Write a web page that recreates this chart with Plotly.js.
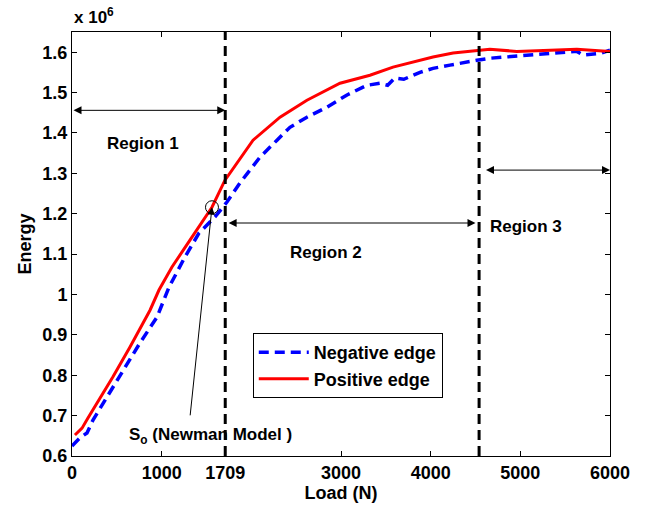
<!DOCTYPE html>
<html><head><meta charset="utf-8">
<script src="https://cdn.plot.ly/plotly-3.0.1.min.js"></script>
<style>body{margin:0;background:#fff}#c{width:653px;height:510px}</style>
</head><body><div id="c"></div>
<script>
// Energy values in units of 1e6
const posLoad = [33, 112, 178, 279, 457, 647, 870, 970, 1115, 1338, 1561, 1706, 1840, 2019, 2320, 2620, 2989, 3323, 3580, 3881, 4026, 4250, 4530, 4660, 4960, 5330, 5630, 6000];
const posEnergy = [0.652, 0.669, 0.694, 0.731, 0.796, 0.870, 0.961, 1.011, 1.068, 1.142, 1.216, 1.283, 1.325, 1.382, 1.439, 1.481, 1.523, 1.543, 1.563, 1.580, 1.588, 1.598, 1.605, 1.607, 1.602, 1.605, 1.607, 1.602];
const negLoad = [0, 89, 167, 234, 390, 569, 758, 948, 1082, 1260, 1416, 1595, 1728, 1873, 2096, 2286, 2431, 2620, 2844, 3067, 3290, 3435, 3520, 3600, 3700, 3881, 4026, 4216, 4327, 4516, 4660, 4850, 5140, 5440, 5630, 5700, 5890, 6000];
const negEnergy = [0.625, 0.645, 0.657, 0.689, 0.746, 0.813, 0.880, 0.944, 1.018, 1.093, 1.152, 1.192, 1.229, 1.276, 1.340, 1.382, 1.414, 1.439, 1.464, 1.494, 1.518, 1.523, 1.518, 1.536, 1.533, 1.550, 1.560, 1.568, 1.573, 1.580, 1.585, 1.588, 1.593, 1.598, 1.602, 1.593, 1.597, 1.605];
const xTicks = [0, 1000, 1709, 3000, 4000, 5000, 6000];
const xTickText = ['0', '1000', '1709', '3000', '4000', '5000', '6000'];
const yTicks = [0.6, 0.7, 0.8, 0.9, 1.0, 1.1, 1.2, 1.3, 1.4, 1.5, 1.6];
const yTickText = ['0.6', '0.7', '0.8', '0.9', '1', '1.1', '1.2', '1.3', '1.4', '1.5', '1.6'];
const boundaries = [1709, 4540];
const newmanPoint = {load: 1561, energy: 1.216};
const newmanLabel = {load: 1316, energy: 0.697};
const regionArrows = [
  {from: 0, to: 1709, y: 1.456},
  {from: 1730, to: 4500, y: 1.177},
  {from: 4600, to: 6000, y: 1.308}
];
const regionLabels = [
  {text: 'Region 1', x: 790, y: 1.375},
  {text: 'Region 2', x: 2830, y: 1.103},
  {text: 'Region 3', x: 5060, y: 1.168}
];

const F = 'Liberation Sans, Arial, sans-serif';
const traces = [
  {x: negLoad, y: negEnergy, mode: 'lines', name: 'Negative edge',
   line: {color: '#0000ff', width: 3.5, dash: '10px,6px'}},
  {x: posLoad, y: posEnergy, mode: 'lines', name: 'Positive edge',
   line: {color: '#ff0000', width: 3}},
  {x: [newmanPoint.load], y: [newmanPoint.energy], mode: 'markers', showlegend: false,
   marker: {symbol: 'circle-open', size: 13, color: '#000', line: {width: 1, color: '#000'}}}
];
const shapes = boundaries.map(b => ({type: 'line', xref: 'x', yref: 'paper', x0: b, x1: b, y0: 0, y1: 1,
  line: {color: '#000', width: 3, dash: '10px,6px'}}));
const annotations = [];
regionArrows.forEach(a => annotations.push({x: a.to, y: a.y, ax: a.from, ay: a.y, axref: 'x', ayref: 'y',
  xref: 'x', yref: 'y', text: '', showarrow: true, arrowhead: 2, startarrowhead: 2, arrowside: 'end+start',
  arrowsize: 1.6, startarrowsize: 1.6, arrowwidth: 1, arrowcolor: '#000'}));
regionLabels.forEach(r => annotations.push({x: r.x, y: r.y, xref: 'x', yref: 'y', text: r.text, showarrow: false,
  font: {family: F, size: 17, color: '#000', weight: 'bold'}}));
annotations.push({x: newmanPoint.load, y: newmanPoint.energy, ax: newmanLabel.load, ay: newmanLabel.energy,
  axref: 'x', ayref: 'y', xref: 'x', yref: 'y', text: '', showarrow: true, arrowhead: 2, arrowsize: 1.5,
  arrowwidth: 1, arrowcolor: '#000'});
annotations.push({x: 1550, y: 0.650, xref: 'x', yref: 'y', text: 'S<sub>o</sub> (Newman Model )', showarrow: false,
  font: {family: F, size: 17, color: '#000', weight: 'bold'}});
annotations.push({x: 0, y: 1, xref: 'paper', yref: 'paper', xanchor: 'left', yanchor: 'bottom', yshift: 3,
  text: 'x 10<sup>6</sup>', showarrow: false, font: {family: F, size: 17, color: '#000', weight: 'bold'}});

const axisCommon = {showline: true, linecolor: '#000', linewidth: 1, mirror: 'ticks', ticks: 'inside',
  ticklen: 5, tickcolor: '#000', showgrid: false, zeroline: false,
  tickfont: {family: F, size: 18, color: '#000', weight: 'bold'}};
const layout = {
  width: 653, height: 510, paper_bgcolor: '#fff', plot_bgcolor: '#fff',
  margin: {l: 72, r: 43, t: 32, b: 54},
  xaxis: Object.assign({}, axisCommon, {range: [0, 6000], tickmode: 'array', tickvals: xTicks, ticktext: xTickText,
    title: {text: 'Load (N)', standoff: 0, font: {family: F, size: 18, color: '#000', weight: 'bold'}}}),
  yaxis: Object.assign({}, axisCommon, {range: [0.6, 1.65], tickmode: 'array', tickvals: yTicks, ticktext: yTickText,
    title: {text: 'Energy', standoff: 6, font: {family: F, size: 18, color: '#000', weight: 'bold'}}}),
  legend: {x: 0.336, y: 0.29, xanchor: 'left', yanchor: 'top', bgcolor: '#fff', bordercolor: '#000', borderwidth: 1,
    itemwidth: 50, font: {family: F, size: 18, color: '#000', weight: 'bold'}, tracegroupgap: 0},
  shapes: shapes, annotations: annotations, showlegend: true
};
Plotly.newPlot('c', traces, layout, {displayModeBar: false, staticPlot: true});
</script></body></html>
